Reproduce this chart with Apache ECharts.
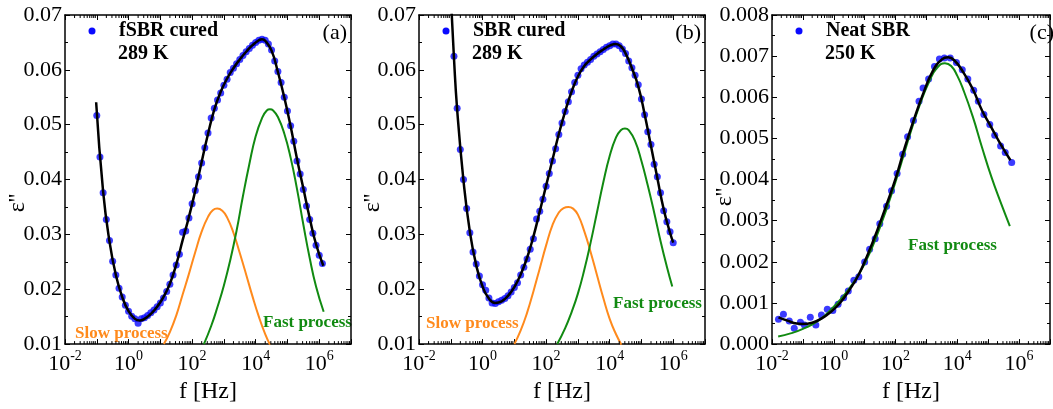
<!DOCTYPE html>
<html><head><meta charset="utf-8">
<script src="https://cdn.jsdelivr.net/npm/echarts@6/dist/echarts.min.js"></script>
<style>html,body{margin:0;padding:0;background:#fff}#c{width:1053px;height:409px}</style>
</head><body><div id="c"></div><script>
// ---------- data (log10 f, epsilon'') ----------
const aLogF = [-1.0,-0.9,-0.8,-0.7,-0.6,-0.5,-0.4,-0.3,-0.2,-0.1,0.0,0.1,0.2,0.3,0.4,0.5,0.6,0.7,0.8,0.9,1.0,1.1,1.2,1.3,1.4,1.5,1.6,1.7,1.8,1.9,2.0,2.1,2.2,2.3,2.4,2.5,2.6,2.7,2.8,2.9,3.0,3.1,3.2,3.3,3.4,3.5,3.6,3.7,3.8,3.9,4.0,4.1,4.2,4.3,4.4,4.5,4.6,4.7,4.8,4.9,5.0,5.1,5.2,5.3,5.4,5.5,5.6,5.7,5.8,5.9,6.0,6.1];
const aEps = [0.0517,0.0441,0.0376,0.0327,0.0289,0.0251,0.0226,0.0202,0.0186,0.0171,0.0160,0.0151,0.0146,0.0138,0.0146,0.0148,0.0152,0.0157,0.0162,0.0168,0.0175,0.0184,0.0196,0.0209,0.0226,0.0244,0.0264,0.0304,0.0306,0.0330,0.0356,0.0380,0.0405,0.0430,0.0458,0.0485,0.0512,0.0530,0.0545,0.0558,0.0572,0.0583,0.0595,0.0603,0.0611,0.0619,0.0626,0.0633,0.0639,0.0645,0.0650,0.0654,0.0656,0.0654,0.0647,0.0636,0.0616,0.0597,0.0577,0.0550,0.0525,0.0498,0.0470,0.0434,0.0410,0.0382,0.0352,0.0327,0.0302,0.0280,0.0262,0.0247];
const aFitLogF = [-1.02,-0.8,-0.6,-0.4,-0.2,0.0,0.2,0.35,0.5,0.7,0.9,1.1,1.3,1.5,1.7,1.9,2.1,2.3,2.5,2.7,2.9,3.1,3.3,3.5,3.7,3.9,4.1,4.2,4.3,4.5,4.7,4.9,5.1,5.3,5.5,5.7,5.9,6.13];
const aFit = [0.0541,0.0378,0.0287,0.0226,0.0186,0.0160,0.0146,0.0143,0.0146,0.0155,0.0168,0.0186,0.0210,0.0245,0.0289,0.0332,0.0380,0.0432,0.0483,0.0528,0.0560,0.0584,0.0603,0.0619,0.0633,0.0645,0.0654,0.0656,0.0653,0.0635,0.0596,0.0550,0.0497,0.0438,0.0384,0.0330,0.0282,0.0243];
const aSlowLogF = [1.11,1.3,1.5,1.7,1.9,2.1,2.3,2.5,2.65,2.79,2.95,3.1,3.3,3.5,3.7,3.9,4.1,4.3,4.45];
const aSlow = [0.0100,0.0122,0.0152,0.0190,0.0228,0.0268,0.0305,0.0332,0.0344,0.0347,0.0343,0.0331,0.0303,0.0266,0.0227,0.0187,0.0150,0.0118,0.0099];
const aFastLogF = [2.37,2.6,2.8,3.0,3.2,3.4,3.6,3.8,4.0,4.2,4.35,4.45,4.55,4.7,4.9,5.1,5.3,5.5,5.7,5.9,6.14];
const aFast = [0.0100,0.0133,0.0168,0.0207,0.0253,0.0307,0.0370,0.0428,0.0479,0.0512,0.0526,0.0528,0.0526,0.0514,0.0484,0.0440,0.0383,0.0318,0.0257,0.0205,0.0159];

const bLogF = [-0.9,-0.8,-0.7,-0.6,-0.5,-0.4,-0.3,-0.2,-0.1,0.0,0.1,0.2,0.3,0.4,0.5,0.6,0.7,0.8,0.9,1.0,1.1,1.2,1.3,1.4,1.5,1.6,1.7,1.8,1.9,2.0,2.1,2.2,2.3,2.4,2.5,2.6,2.7,2.8,2.9,3.0,3.1,3.2,3.3,3.4,3.5,3.6,3.7,3.8,3.9,4.0,4.1,4.2,4.3,4.4,4.5,4.6,4.7,4.8,4.9,5.0,5.1,5.2,5.3,5.4,5.5,5.6,5.7,5.8,5.9,6.0];
const bEps = [0.0625,0.0530,0.0455,0.0400,0.0347,0.0303,0.0268,0.0246,0.0224,0.0208,0.0198,0.0184,0.0175,0.0174,0.0177,0.0180,0.0183,0.0188,0.0195,0.0203,0.0212,0.0226,0.0240,0.0255,0.0273,0.0292,0.0328,0.0342,0.0364,0.0388,0.0411,0.0434,0.0456,0.0482,0.0503,0.0524,0.0542,0.0560,0.0577,0.0590,0.0602,0.0609,0.0614,0.0619,0.0625,0.0629,0.0633,0.0637,0.0641,0.0644,0.0647,0.0647,0.0644,0.0638,0.0630,0.0616,0.0604,0.0590,0.0573,0.0547,0.0518,0.0487,0.0464,0.0428,0.0405,0.0376,0.0343,0.0323,0.0305,0.0285];
const bFitLogF = [-1.0,-0.9,-0.8,-0.6,-0.4,-0.2,0.0,0.2,0.4,0.6,0.8,1.0,1.2,1.4,1.6,1.8,2.0,2.2,2.4,2.6,2.8,3.0,3.2,3.4,3.6,3.8,4.0,4.2,4.35,4.5,4.7,4.9,5.1,5.3,5.5,5.7,5.9,6.0];
const bFit = [0.0735,0.0622,0.0528,0.0398,0.0305,0.0244,0.0205,0.0183,0.0175,0.0178,0.0188,0.0204,0.0227,0.0257,0.0296,0.0342,0.0389,0.0436,0.0483,0.0524,0.0560,0.0588,0.0607,0.0619,0.0629,0.0637,0.0644,0.0647,0.0643,0.0630,0.0603,0.0570,0.0519,0.0461,0.0403,0.0346,0.0303,0.0285];
const bSlowLogF = [1.0,1.2,1.4,1.6,1.8,2.0,2.2,2.4,2.55,2.70,2.85,3.0,3.2,3.4,3.6,3.8,4.0,4.2,4.37];
const bSlow = [0.0100,0.0125,0.0157,0.0196,0.0238,0.0280,0.0317,0.0340,0.0348,0.0350,0.0347,0.0336,0.0306,0.0268,0.0226,0.0184,0.0146,0.0118,0.0099];
const bFastLogF = [2.35,2.6,2.8,3.0,3.2,3.4,3.6,3.8,4.0,4.2,4.35,4.48,4.6,4.8,5.0,5.2,5.4,5.6,5.8,5.97];
const bFast = [0.0100,0.0129,0.0158,0.0192,0.0235,0.0285,0.0340,0.0395,0.0443,0.0477,0.0490,0.0493,0.0490,0.0470,0.0434,0.0389,0.0340,0.0288,0.0241,0.0205];

const cLogF = [-1.79,-1.63,-1.44,-1.28,-1.08,-0.95,-0.76,-0.58,-0.40,-0.21,-0.03,0.14,0.32,0.47,0.65,0.81,1.00,1.16,1.34,1.49,1.71,1.87,2.05,2.23,2.39,2.58,2.76,2.89,3.07,3.26,3.42,3.58,3.77,3.97,4.16,4.34,4.53,4.68,4.86,5.05,5.21,5.40,5.55,5.76];
const cEps = [0.000604,0.000726,0.000564,0.000387,0.000532,0.000467,0.000653,0.000467,0.000709,0.000846,0.000814,0.000967,0.001128,0.001289,0.001555,0.001636,0.001998,0.002304,0.002562,0.002925,0.003351,0.003730,0.004149,0.004616,0.005043,0.005438,0.005905,0.006228,0.006445,0.006751,0.006928,0.006953,0.006953,0.006848,0.006671,0.006445,0.006171,0.005905,0.005583,0.005341,0.005075,0.004818,0.004657,0.004415];
const cFitLogF = [-1.79,-1.5,-1.2,-1.0,-0.7,-0.4,-0.1,0.2,0.5,0.8,1.1,1.4,1.7,2.0,2.3,2.6,2.9,3.2,3.5,3.7,3.9,4.2,4.5,4.8,5.1,5.4,5.72];
const cFit = [0.00065,0.00057,0.00050,0.00049,0.00052,0.00062,0.00078,0.00100,0.00131,0.00168,0.00218,0.00275,0.00337,0.00402,0.00478,0.00547,0.00610,0.00663,0.00692,0.00697,0.00690,0.00660,0.00620,0.00568,0.00527,0.00486,0.00447];
const cFastLogF = [-1.8,-1.4,-1.0,-0.5,0.0,0.5,1.0,1.5,2.0,2.5,2.8,3.1,3.35,3.6,3.8,4.0,4.2,4.5,4.8,5.1,5.4,5.7];
const cFast = [0.000185,0.00026,0.00037,0.00057,0.00091,0.00135,0.00195,0.00285,0.00395,0.00518,0.00585,0.00640,0.00672,0.00683,0.00676,0.00652,0.00617,0.00553,0.00478,0.00407,0.00345,0.00287];

const xTickLabelExps = [-2, 0, 2, 4, 6];
const panelNames = ['fSBR cured', 'SBR cured', 'Neat SBR'];
const panelTemps = ['289 K', '289 K', '250 K'];
const panelTags = ['(a)', '(b)', '(c)'];

// ---------- styles / layout ----------
const FONT = '"Liberation Serif", "Times New Roman", serif';
const BLUE = '#0a0aff', ORANGE = '#ff8a1c', GREEN = '#118a11';
const X_MIN = 0.01, X_MAX = 1e7;
const GRID_TOP = 15, GRID_H = 331, GRID_W = 286;

const pairs = (lf, v) => lf.map((l, i) => [Math.pow(10, l), v[i]]);

const panels = [
  {left: 65, yMin: 0.01, yMax: 0.07, yInt: 0.01, dec: 2, d: pairs(aLogF, aEps), fit: pairs(aFitLogF, aFit), slow: pairs(aSlowLogF, aSlow), fast: pairs(aFastLogF, aFast),
   slowLbl: [75, 334], fastLbl: [263, 323], yName: [18, 203]},
  {left: 419, yMin: 0.01, yMax: 0.07, yInt: 0.01, dec: 2, d: pairs(bLogF, bEps), fit: pairs(bFitLogF, bFit), slow: pairs(bSlowLogF, bSlow), fast: pairs(bFastLogF, bFast),
   slowLbl: [426, 324], fastLbl: [613, 304], yName: [373, 203]},
  {left: 772, yMin: 0, yMax: 0.008, yInt: 0.001, dec: 3, d: pairs(cLogF, cEps), fit: pairs(cFitLogF, cFit), slow: null, fast: pairs(cFastLogF, cFast),
   slowLbl: null, fastLbl: [908, 246], yName: [725, 197]}
];

// minor log ticks
const minorVals = [];
for (let e = -2; e < 7; e++) for (let k = 2; k <= 9; k++) minorVals.push(k * Math.pow(10, e));

const grid = [], xAxis = [], yAxis = [], series = [], graphic = [];
panels.forEach((p, i) => {
  grid.push({left: p.left, top: GRID_TOP, width: GRID_W, height: GRID_H, containLabel: false});
  const lineStyle = {color: '#000', width: 1.5};
  xAxis.push({
    type: 'log', logBase: 10, gridIndex: i, min: X_MIN, max: X_MAX, position: 'bottom',
    axisLine: {show: true, onZero: false, lineStyle},
    axisTick: {show: true, inside: true, length: 5, lineStyle: {color: '#000', width: 1}},
    minorTick: {show: false},
    splitLine: {show: false},
    axisLabel: {
      show: true, margin: 5, color: '#000', fontFamily: FONT,
      formatter: v => {
        const e = Math.round(Math.log10(v));
        return xTickLabelExps.includes(e) ? '{n|10}{s|' + e + '}' : '';
      },
      rich: {
        n: {fontSize: 22, fontFamily: FONT, color: '#000', verticalAlign: 'bottom', lineHeight: 26},
        s: {fontSize: 14, fontFamily: FONT, color: '#000', verticalAlign: 'top', lineHeight: 14}
      }
    },
    name: 'f [Hz]', nameLocation: 'middle', nameGap: 34,
    nameTextStyle: {fontSize: 24, fontFamily: FONT, color: '#000'}
  });
  xAxis.push({
    type: 'log', logBase: 10, gridIndex: i, min: X_MIN, max: X_MAX, position: 'top',
    axisLine: {show: true, onZero: false, lineStyle},
    axisTick: {show: true, inside: true, length: 5, lineStyle: {color: '#000', width: 1}},
    axisLabel: {show: false}, splitLine: {show: false}
  });
  const yCommon = {
    type: 'value', gridIndex: i, min: p.yMin, max: p.yMax, interval: p.yInt,
    axisLine: {show: true, onZero: false, lineStyle},
    axisTick: {show: true, inside: true, length: 5, lineStyle: {color: '#000', width: 1}},
    minorTick: {show: true, splitNumber: 2, length: 3, lineStyle: {color: '#000', width: 1}},
    splitLine: {show: false}
  };
  yAxis.push(Object.assign({}, yCommon, {
    position: 'left',
    axisLabel: {show: true, margin: 3, fontSize: 22, fontFamily: FONT, color: '#000', formatter: v => v.toFixed(p.dec)}
  }));
  yAxis.push(Object.assign({}, yCommon, {position: 'right', axisLabel: {show: false}}));

  const xi = i * 2, yi = i * 2;
  series.push({
    type: 'scatter', xAxisIndex: xi, yAxisIndex: yi, data: p.d, symbol: 'circle', symbolSize: 7,
    itemStyle: {color: BLUE}, z: 2, silent: true
  });
  const lineBase = {type: 'line', xAxisIndex: xi, yAxisIndex: yi, smooth: true, showSymbol: false, silent: true};
  if (p.slow) series.push(Object.assign({}, lineBase, {data: p.slow, lineStyle: {color: ORANGE, width: 2}, z: 3}));
  if (p.fast) series.push(Object.assign({}, lineBase, {data: p.fast, lineStyle: {color: GREEN, width: 2}, z: 3}));
  series.push(Object.assign({}, lineBase, {data: p.fit, lineStyle: {color: '#000', width: 2.5}, z: 4}));
  // log minor ticks (bottom + top)
  series.push({
    type: 'custom', xAxisIndex: xi, yAxisIndex: yi, silent: true, clip: false, z: 5,
    data: minorVals.filter(v => v < X_MAX).map(v => [v, p.yMin]),
    renderItem: (params, api) => {
      const b = api.coord([api.value(0), p.yMin]);
      const t = api.coord([api.value(0), p.yMax]);
      const st = {stroke: '#000', lineWidth: 1};
      return {type: 'group', children: [
        {type: 'line', shape: {x1: b[0], y1: b[1], x2: b[0], y2: b[1] - 3}, style: st},
        {type: 'line', shape: {x1: t[0], y1: t[1], x2: t[0], y2: t[1] + 3}, style: st}
      ]};
    }
  });

  // legend-like labels
  const lx = p.left + 27;
  graphic.push({type: 'circle', shape: {cx: lx, cy: 31, r: 3.5}, style: {fill: BLUE}});
  graphic.push({type: 'text', x: lx + 27, y: 31, style: {text: panelNames[i], font: 'bold 20px ' + FONT, fill: '#000', textVerticalAlign: 'middle'}});
  graphic.push({type: 'text', x: lx + 26, y: 54, style: {text: panelTemps[i], font: 'bold 20px ' + FONT, fill: '#000', textVerticalAlign: 'middle'}});
  graphic.push({type: 'text', x: p.left + GRID_W - 4, y: 33, style: {text: panelTags[i], font: '22px ' + FONT, fill: '#000', textAlign: 'right', textVerticalAlign: 'middle'}});
  if (p.slowLbl) graphic.push({type: 'text', x: p.slowLbl[0], y: p.slowLbl[1], style: {text: 'Slow process', font: 'bold 17px ' + FONT, fill: ORANGE, textVerticalAlign: 'middle'}});
  if (p.fastLbl) graphic.push({type: 'text', x: p.fastLbl[0], y: p.fastLbl[1], style: {text: 'Fast process', font: 'bold 17px ' + FONT, fill: GREEN, textVerticalAlign: 'middle'}});
  graphic.push({type: 'text', x: p.yName[0], y: p.yName[1], rotation: Math.PI / 2,
    style: {text: "ε''", font: '24px ' + FONT, fill: '#000', textAlign: 'center', textVerticalAlign: 'middle'}});
});

const chart = echarts.init(document.getElementById('c'), null, {renderer: 'canvas'});
chart.setOption({animation: false, backgroundColor: '#fff', grid, xAxis, yAxis, series, graphic});
</script></body></html>
